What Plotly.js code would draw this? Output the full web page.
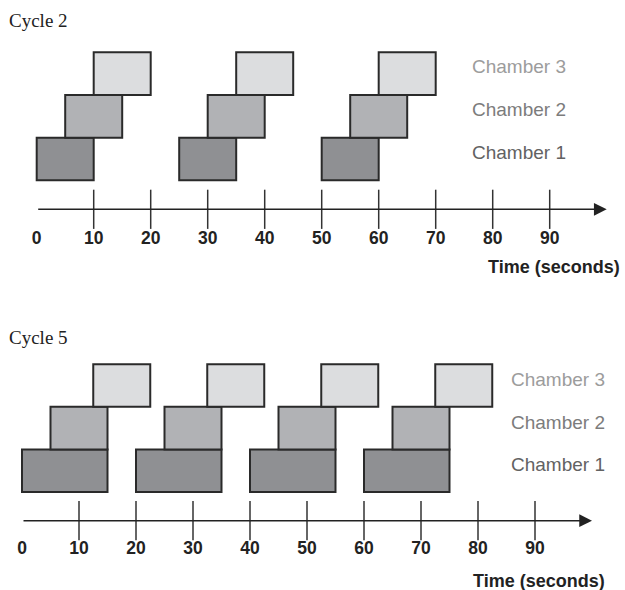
<!DOCTYPE html>
<html>
<head>
<meta charset="utf-8">
<script src="https://cdn.plot.ly/plotly-3.0.1.min.js"></script>
<style>html,body{margin:0;padding:0;background:#fff;}#chart{width:625px;height:590px;}</style>
</head>
<body>
<div id="chart"></div>
<script>
// ---- data ----
const chamberNames = ["Chamber 1", "Chamber 2", "Chamber 3"];
const panelTitles = ["Cycle 2", "Cycle 5"];
const tickValues = [0, 10, 20, 30, 40, 50, 60, 70, 80, 90];
const tickLabels = ["0", "10", "20", "30", "40", "50", "60", "70", "80", "90"];
const axisEnd = 100;
const axisTitle = "Time (seconds)";

// Cycle 2
const c2Ch1Start = [0, 25, 50];
const c2Ch1End   = [10, 35, 60];
const c2Ch2Start = [5, 30, 55];
const c2Ch2End   = [15, 40, 65];
const c2Ch3Start = [10, 35, 60];
const c2Ch3End   = [20, 45, 70];
// Cycle 5
const c5Ch1Start = [0, 20, 40, 60];
const c5Ch1End   = [15, 35, 55, 75];
const c5Ch2Start = [5, 25, 45, 65];
const c5Ch2End   = [15, 35, 55, 75];
const c5Ch3Start = [12.5, 32.5, 52.5, 72.5];
const c5Ch3End   = [22.5, 42.5, 62.5, 82.5];

// ---- styles ----
const fills = ["#8f9093", "#b1b2b5", "#dcdddf"];
const labelColors = ["#626262", "#7c7c7c", "#9c9c9c"];
const W = 625, H = 590;

// pixel layout helpers for each panel
const panels = [
  {xa: "x", ya: "y", x0px: 36.7, pxPerUnit: 5.7, ch1Px: 159, rowPx: 42.7, top: 0, bottom: 290,
   axisPx: 209.3, labelPx: 239.5, titlePx: 267, titleRight: 621.5, chamberLeft: 470, cyclePx: 21,
   chamberOffsetPx: 7},
  {xa: "x2", ya: "y2", x0px: 22, pxPerUnit: 5.7, ch1Px: 470.7, rowPx: 42.6, top: 295, bottom: 590,
   axisPx: 520.7, labelPx: 549.5, titlePx: 581, titleRight: 607, chamberLeft: 509, cyclePx: 337,
   chamberOffsetPx: 6}
];
function pxToY(p, pan) { return 1 + (pan.ch1Px - p) / pan.rowPx; }
function pxToX(px, pan) { return (px - pan.x0px) / pan.pxPerUnit; }

const panelData = [
  [[c2Ch1Start, c2Ch1End], [c2Ch2Start, c2Ch2End], [c2Ch3Start, c2Ch3End]],
  [[c5Ch1Start, c5Ch1End], [c5Ch2Start, c5Ch2End], [c5Ch3Start, c5Ch3End]]
];

const traces = [];
const annotations = [];
const layout = {
  width: W, height: H,
  margin: {l: 0, r: 0, t: 0, b: 0},
  paper_bgcolor: "#fff", plot_bgcolor: "#fff",
  showlegend: false, barmode: "overlay", hovermode: false,
  annotations: annotations
};

panels.forEach((pan, pi) => {
  const xs = pi === 0 ? "" : "2";
  layout["xaxis" + xs] = {
    domain: [0, 1], anchor: "y" + xs,
    range: [pxToX(0, pan), pxToX(W, pan)],
    visible: false, fixedrange: true
  };
  layout["yaxis" + xs] = {
    domain: [1 - pan.bottom / H, 1 - pan.top / H], anchor: "x" + xs,
    range: [pxToY(pan.bottom, pan), pxToY(pan.top, pan)],
    visible: false, fixedrange: true
  };
  // bars
  panelData[pi].forEach((pair, ci) => {
    const starts = pair[0], ends = pair[1];
    traces.push({
      type: "bar", orientation: "h", xaxis: pan.xa, yaxis: pan.ya,
      base: starts,
      x: starts.map((s, i) => ends[i] - s),
      y: starts.map(() => ci + 1),
      width: 1,
      marker: {color: fills[ci], line: {color: "#2a2a2a", width: 2}}
    });
    annotations.push({
      xref: pan.xa, yref: pan.ya,
      x: pxToX(pan.chamberLeft, pan), y: ci + 1 + pan.chamberOffsetPx / pan.rowPx,
      xanchor: "left", yanchor: "middle", showarrow: false,
      text: chamberNames[ci],
      font: {family: "Liberation Sans, Arial, sans-serif", size: 19, color: labelColors[ci]}
    });
  });
  const axisY = pxToY(pan.axisPx, pan);
  // tick marks
  traces.push({
    type: "scatter", mode: "markers", xaxis: pan.xa, yaxis: pan.ya,
    x: tickValues.filter(v => v > 0),
    y: tickValues.filter(v => v > 0).map(() => axisY),
    marker: {symbol: "line-ns", size: 28, color: "#333", line: {color: "#333", width: 1.5}}
  });
  // tick labels
  traces.push({
    type: "scatter", mode: "text", xaxis: pan.xa, yaxis: pan.ya,
    x: tickValues, y: tickValues.map(() => pxToY(pan.labelPx, pan)),
    text: tickLabels, textposition: "middle center",
    textfont: {family: "Liberation Sans, Arial, sans-serif", size: 17.5, color: "#222", weight: "bold"}
  });
  // axis line with arrow
  annotations.push({
    xref: pan.xa, yref: pan.ya, axref: pan.xa, ayref: pan.ya,
    x: axisEnd, y: axisY, ax: 0, ay: axisY,
    text: "", showarrow: true, arrowhead: 2, arrowsize: 1.7, arrowwidth: 1.5, arrowcolor: "#222"
  });
  // axis title
  annotations.push({
    xref: "paper", yref: "paper",
    x: pan.titleRight / W, y: 1 - pan.titlePx / H,
    xanchor: "right", yanchor: "middle", showarrow: false,
    text: axisTitle,
    font: {family: "Liberation Sans, Arial, sans-serif", size: 18, color: "#222", weight: "bold"}
  });
  // panel title
  annotations.push({
    xref: "paper", yref: "paper",
    x: 7 / W, y: 1 - pan.cyclePx / H,
    xanchor: "left", yanchor: "middle", showarrow: false,
    text: panelTitles[pi],
    font: {family: "Liberation Serif, Times New Roman, serif", size: 19, color: "#222"}
  });
});

Plotly.newPlot("chart", traces, layout, {displayModeBar: false, staticPlot: true});
</script>
</body>
</html>
